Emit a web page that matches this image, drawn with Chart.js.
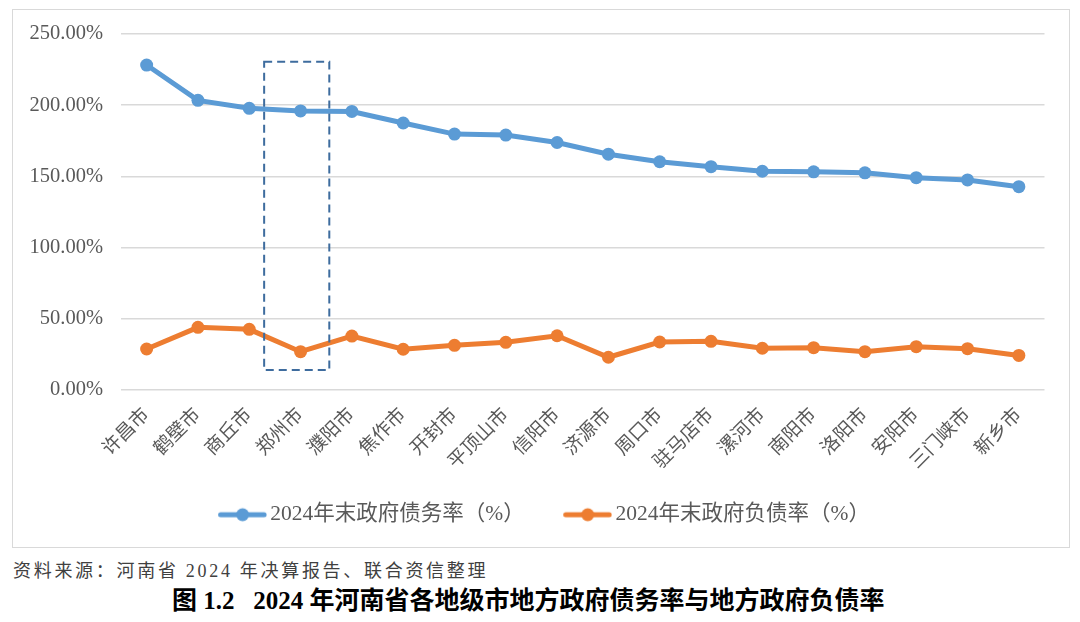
<!DOCTYPE html>
<html><head><meta charset="utf-8">
<script src="https://cdn.jsdelivr.net/npm/chart.js@4.4.1/dist/chart.umd.min.js"></script>
<style>
body{margin:0;background:#fff;width:1080px;height:622px;overflow:hidden;position:relative;font-family:'Liberation Serif','Noto Sans CJK SC',serif;}
#box{position:absolute;left:12px;top:9px;width:1058px;height:539px;border:1px solid #d9d9d9;box-sizing:border-box;}
#box canvas{display:block}
#src{position:absolute;left:13px;top:559px;font-size:18px;letter-spacing:2.7px;color:#404040;white-space:pre;line-height:24px}
#ttl{position:absolute;left:172px;top:587px;font-size:25px;font-weight:bold;color:#000;white-space:pre;line-height:28px}
</style></head>
<body>
<div id="box"><canvas id="c"></canvas></div>
<div id="src">资料来源：河南省 2024 年决算报告、联合资信整理</div>
<div id="ttl">图 1.2   2024 年河南省各地级市地方政府债务率与地方政府负债率</div>
<script>
const categories = ['许昌市','鹤壁市','商丘市','郑州市','濮阳市','焦作市','开封市','平顶山市','信阳市','济源市','周口市','驻马店市','漯河市','南阳市','洛阳市','安阳市','三门峡市','新乡市'];
const debtRatio = [228.2,203.4,197.8,196.0,195.6,187.5,179.7,179.0,173.8,165.6,160.3,156.8,153.6,153.2,152.5,149.1,147.5,142.8];
const liabilityRatio = [28.8,44.0,42.6,26.9,37.9,28.6,31.4,33.5,38.1,23.0,33.7,34.2,29.3,29.7,26.9,30.4,29.0,24.3];
const seriesNames = ['2024年末政府债务率（%）','2024年末政府负债率（%）'];
const yMin = 0, yMax = 250, yStep = 50;
// highlighted region around 郑州市, in data units (category index, percent)
const highlightBox = {xMin: 2.29, xMax: 3.56, yMin: 14, yMax: 230.5};

const FONT = "'Liberation Serif','Noto Sans CJK SC',serif";
Chart.defaults.font.family = FONT;
const colors = ['#5B9BD5', '#ED7D31'];

function legendIcon(color){
  const c = document.createElement('canvas');
  c.width = 70; c.height = 16;
  const g = c.getContext('2d');
  g.strokeStyle = color; g.lineWidth = 5; g.lineCap = 'round';
  g.beginPath(); g.moveTo(23.5, 8); g.lineTo(67, 8); g.stroke();
  g.fillStyle = color;
  g.beginPath(); g.arc(45.5, 8, 6.5, 0, Math.PI * 2); g.fill();
  return c;
}
const icons = colors.map(legendIcon);

const hlPlugin = {
  id: 'hl',
  afterDatasetsDraw(chart){
    const {ctx, scales: {x, y}} = chart;
    const x0 = x.getPixelForValue(highlightBox.xMin), x1 = x.getPixelForValue(highlightBox.xMax);
    const y0 = y.getPixelForValue(highlightBox.yMax), y1 = y.getPixelForValue(highlightBox.yMin);
    ctx.save();
    ctx.strokeStyle = '#3E6C9E'; ctx.lineWidth = 2; ctx.setLineDash([8, 5]);
    ctx.strokeRect(x0, y0, x1 - x0, y1 - y0);
    ctx.restore();
  }
};

const ds = (label, data, color) => ({
  label, data, borderColor: color, backgroundColor: color,
  borderWidth: 5, pointRadius: 6.5, pointHoverRadius: 6.5, pointBorderWidth: 0,
  pointBackgroundColor: color, tension: 0
});

new Chart(document.getElementById('c'), {
  type: 'line',
  data: {
    labels: categories,
    datasets: [ds(seriesNames[0], debtRatio, colors[0]), ds(seriesNames[1], liabilityRatio, colors[1])]
  },
  plugins: [hlPlugin],
  options: {
    responsive: true, maintainAspectRatio: false, animation: false,
    layout: {padding: {top: 24, right: 24.5, bottom: 11.5, left: 17}},
    plugins: {
      tooltip: {enabled: false},
      legend: {
        position: 'bottom',
        labels: {
          usePointStyle: true, pointStyleWidth: 55, padding: 25,
          color: '#595959', font: {size: 21.5, family: FONT},
          generateLabels(chart){
            const items = Chart.defaults.plugins.legend.labels.generateLabels(chart);
            items.forEach((it, i) => { it.pointStyle = icons[i]; });
            return items;
          }
        }
      }
    },
    scales: {
      x: {
        offset: true,
        grid: {display: false},
        border: {display: false},
        ticks: {autoSkip: false, minRotation: 45, maxRotation: 45, color: '#595959', font: {size: 19}, padding: 6},
        afterFit(s){ s.height = 89; }
      },
      y: {
        min: yMin, max: yMax,
        grid: {color: '#d9d9d9', lineWidth: 1.5, drawTicks: true, tickLength: 13, tickColor: 'rgba(0,0,0,0)'},
        border: {display: false},
        ticks: {stepSize: yStep, padding: 5, color: '#595959', font: {size: 20.5},
          callback: v => v.toFixed(2) + '%'},
        afterFit(s){ s.width = 91; }
      }
    }
  }
});
</script>
</body></html>
